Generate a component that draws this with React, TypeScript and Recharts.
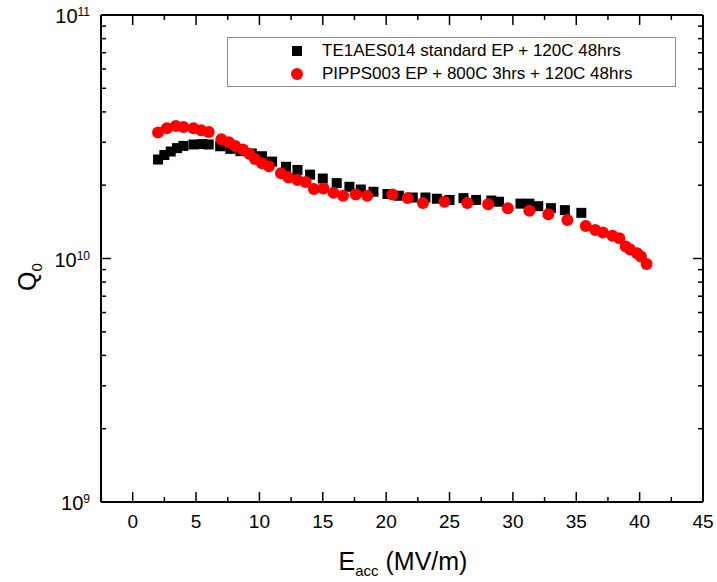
import React from "react";
import {
  ScatterChart,
  Scatter,
  XAxis,
  YAxis,
  Legend,
  Customized,
} from "recharts";

// TE1AES014 standard EP + 120C 48hrs
const eacc1 = [
  2.0, 2.5, 3.0, 3.5, 4.0, 4.8, 5.5, 6.0, 6.9, 7.7, 8.5, 9.4, 10.2, 11.0, 12.1,
  13.0, 14.0, 15.0, 16.1, 17.1, 18.0, 19.0, 20.1, 21.0, 22.1, 23.1, 24.0, 25.0,
  26.1, 27.1, 28.3, 28.9, 30.6, 31.3, 32.0, 33.0, 34.1, 35.4,
];
const q1 = [
  2.55e10, 2.66e10, 2.75e10, 2.84e10, 2.9e10, 2.94e10, 2.95e10, 2.94e10,
  2.89e10, 2.82e10, 2.76e10, 2.7e10, 2.63e10, 2.5e10, 2.38e10, 2.31e10,
  2.21e10, 2.13e10, 2.04e10, 1.97e10, 1.92e10, 1.88e10, 1.84e10, 1.81e10,
  1.78e10, 1.78e10, 1.76e10, 1.74e10, 1.77e10, 1.74e10, 1.73e10, 1.71e10,
  1.68e10, 1.68e10, 1.64e10, 1.61e10, 1.58e10, 1.54e10,
];

// PIPPS003 EP + 800C 3hrs + 120C 48hrs
const eacc2 = [
  2.0, 2.7, 3.4, 4.0, 4.8, 5.4, 6.0, 7.0, 7.6, 8.1, 8.7, 9.2, 9.65, 10.2, 10.75,
  11.7, 12.3, 13.0, 13.65, 14.3, 15.05, 15.85, 16.6, 17.6, 18.5, 20.5, 21.7,
  22.9, 24.6, 26.4, 28.05, 29.6, 31.3, 32.8, 34.3, 35.75, 36.5, 37.1, 37.85,
  38.4, 38.9, 39.25, 39.8, 40.1, 40.55,
];
const q2 = [
  3.29e10, 3.43e10, 3.5e10, 3.47e10, 3.43e10, 3.36e10, 3.31e10, 3.09e10, 3.0e10,
  2.9e10, 2.8e10, 2.69e10, 2.56e10, 2.46e10, 2.39e10, 2.24e10, 2.15e10,
  2.1e10, 2.06e10, 1.93e10, 1.94e10, 1.86e10, 1.81e10, 1.83e10, 1.81e10,
  1.83e10, 1.77e10, 1.69e10, 1.71e10, 1.69e10, 1.67e10, 1.61e10, 1.57e10,
  1.52e10, 1.44e10, 1.36e10, 1.31e10, 1.28e10, 1.24e10, 1.21e10, 1.12e10,
  1.09e10, 1.05e10, 1.02e10, 9.5e9,
];

const xTicks = [
  0, 2.5, 5, 7.5, 10, 12.5, 15, 17.5, 20, 22.5, 25, 27.5, 30, 32.5, 35, 37.5,
  40, 42.5, 45,
];
const yTicks = [
  1e9, 2e9, 3e9, 4e9, 5e9, 6e9, 7e9, 8e9, 9e9, 1e10, 2e10, 3e10, 4e10, 5e10,
  6e10, 7e10, 8e10, 9e10, 1e11,
];
const yMajor: Record<number, string> = { 1e9: "9", 1e10: "10", 1e11: "11" };

const series1 = eacc1.map((e, i) => ({ e, q: q1[i] }));
const series2 = eacc2.map((e, i) => ({ e, q: q2[i] }));

const W = 717;
const H = 582;
const LEFT = 101;
const RIGHT = 703;
const TOP = 15;
const BOTTOM = 502;
const FONT = "Liberation Sans, Arial, sans-serif";

const isMajorX = (v: number) => v % 5 === 0;

function BottomTick({ x, payload }: any) {
  const major = isMajorX(payload.value);
  return (
    <g>
      <line x1={x} x2={x} y1={BOTTOM} y2={BOTTOM - (major ? 10 : 5)} stroke="#000" strokeWidth={1.5} />
      {major && (
        <text x={x} y={528} textAnchor="middle" fontSize={19} fontFamily={FONT} fill="#000">
          {payload.value}
        </text>
      )}
    </g>
  );
}

function TopTick({ x, payload }: any) {
  const major = isMajorX(payload.value);
  return <line x1={x} x2={x} y1={TOP} y2={TOP + (major ? 10 : 5)} stroke="#000" strokeWidth={1.5} />;
}

function LeftTick({ y, payload }: any) {
  const exp = yMajor[payload.value];
  return (
    <g>
      <line x1={LEFT} x2={LEFT + (exp ? 10 : 5)} y1={y} y2={y} stroke="#000" strokeWidth={1.5} />
      {exp && (
        <text x={90} y={y + 8} textAnchor="end" fontSize={20} fontFamily={FONT} fill="#000">
          10
          <tspan dy={-7} fontSize={12}>
            {exp}
          </tspan>
        </text>
      )}
    </g>
  );
}

function RightTick({ y, payload }: any) {
  const major = !!yMajor[payload.value];
  return <line x1={RIGHT} x2={RIGHT - (major ? 10 : 5)} y1={y} y2={y} stroke="#000" strokeWidth={1.5} />;
}

const Square = ({ cx, cy }: any) => <rect x={cx - 5} y={cy - 5} width={10} height={10} fill="#000" />;
const Dot = ({ cx, cy }: any) => <circle cx={cx} cy={cy} r={6} fill="#ff0000" />;

function LegendBox() {
  const row = { display: "flex", alignItems: "center", height: 23 } as const;
  return (
    <div
      style={{
        border: "1px solid #8c8c8c",
        background: "#fff",
        width: 447,
        height: 47,
        boxSizing: "content-box",
        fontFamily: FONT,
        fontSize: 17,
        color: "#000",
        paddingTop: 1,
      }}
    >
      <div style={row}>
        <svg width={94} height={14}>
          <rect x={64} y={2} width={10} height={10} fill="#000" />
        </svg>
        <span>TE1AES014 standard EP + 120C 48hrs</span>
      </div>
      <div style={row}>
        <svg width={94} height={14}>
          <circle cx={69} cy={7} r={6} fill="#ff0000" />
        </svg>
        <span>PIPPS003 EP + 800C 3hrs + 120C 48hrs</span>
      </div>
    </div>
  );
}

function Titles() {
  return (
    <g fontFamily={FONT} fill="#000">
      <text x={403} y={570} textAnchor="middle" fontSize={25}>
        E<tspan fontSize={15} dy={6}>acc</tspan>
        <tspan dy={-6}> (MV/m)</tspan>
      </text>
      <text transform="translate(36, 277) rotate(-90)" textAnchor="middle" fontSize={25}>
        Q<tspan fontSize={15} dy={6}>0</tspan>
      </text>
    </g>
  );
}

export default function App() {
  return (
    <div style={{ position: "absolute", left: 0, top: 0, background: "#fff" }}>
      <ScatterChart
        width={W}
        height={H}
        margin={{ top: TOP - 5, right: W - RIGHT - 5, bottom: H - BOTTOM - 30, left: LEFT - 40 }}
      >
        <XAxis
          xAxisId="b"
          type="number"
          dataKey="e"
          domain={[-2.5, 45]}
          ticks={xTicks}
          height={30}
          axisLine={{ stroke: "#000", strokeWidth: 2 }}
          tickLine={false}
          tick={<BottomTick />}
          interval={0}
          allowDataOverflow
        />
        <XAxis
          xAxisId="t"
          orientation="top"
          type="number"
          dataKey="e"
          domain={[-2.5, 45]}
          ticks={xTicks}
          height={5}
          axisLine={{ stroke: "#000", strokeWidth: 2 }}
          tickLine={false}
          tick={<TopTick />}
          interval={0}
          allowDataOverflow
        />
        <YAxis
          yAxisId="l"
          type="number"
          dataKey="q"
          scale="log"
          domain={[1e9, 1e11]}
          ticks={yTicks}
          width={40}
          axisLine={{ stroke: "#000", strokeWidth: 2 }}
          tickLine={false}
          tick={<LeftTick />}
          interval={0}
          allowDataOverflow
        />
        <YAxis
          yAxisId="r"
          orientation="right"
          type="number"
          dataKey="q"
          scale="log"
          domain={[1e9, 1e11]}
          ticks={yTicks}
          width={5}
          axisLine={{ stroke: "#000", strokeWidth: 2 }}
          tickLine={false}
          tick={<RightTick />}
          interval={0}
          allowDataOverflow
        />
        <Legend
          layout="horizontal"
          verticalAlign="middle"
          align="center"
          wrapperStyle={{ left: 227, top: 37, width: 449 }}
          content={() => <LegendBox />}
        />
        <Scatter
          name="TE1AES014 standard EP + 120C 48hrs"
          data={series1}
          xAxisId="b"
          yAxisId="l"
          shape={Square}
          isAnimationActive={false}
        />
        <Scatter
          name="PIPPS003 EP + 800C 3hrs + 120C 48hrs"
          data={series2}
          xAxisId="b"
          yAxisId="l"
          shape={Dot}
          isAnimationActive={false}
        />
        <Customized component={Titles} />
      </ScatterChart>
    </div>
  );
}
